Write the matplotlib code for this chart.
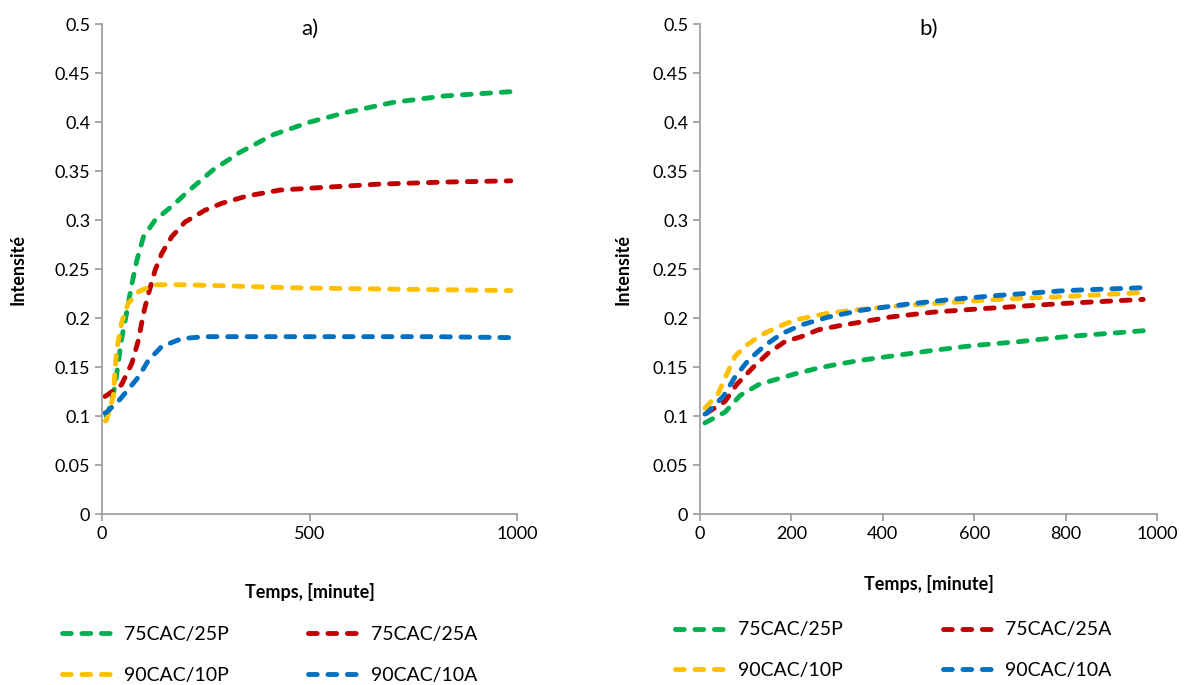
import numpy as np
import matplotlib
matplotlib.use('Agg')
import matplotlib.pyplot as plt
from matplotlib.ticker import FuncFormatter

plt.rcParams['font.family'] = ['Lato', 'DejaVu Sans']

# Couleurs (Excel)
couleurs = {'75CAC/25P': '#00B050', '75CAC/25A': '#C00000',
            '90CAC/10P': '#FFC000', '90CAC/10A': '#0070C0'}
ordre = ['75CAC/25P', '75CAC/25A', '90CAC/10P', '90CAC/10A']

# ---- a) ----
a_25P_x = [10, 15, 31, 39, 47, 59, 72, 84, 100, 128, 168, 212, 267, 332, 412, 501, 590, 701, 822, 985]
a_25P_y = [0.100, 0.103, 0.130, 0.154, 0.178, 0.205, 0.235, 0.259, 0.283, 0.300, 0.314, 0.331,
           0.351, 0.369, 0.387, 0.400, 0.410, 0.420, 0.4265, 0.431]

a_25A_x = [7, 11, 47, 72, 88, 100, 112, 128, 144, 168, 200, 248, 288, 349, 429, 549, 670, 831, 985]
a_25A_y = [0.120, 0.121, 0.132, 0.154, 0.178, 0.205, 0.225, 0.249, 0.266, 0.283, 0.298, 0.310,
           0.317, 0.3245, 0.3306, 0.3337, 0.3367, 0.3388, 0.340]

a_10P_x = [8, 11, 27, 35, 47, 63, 88, 128, 192, 288, 446, 600, 800, 985]
a_10P_y = [0.095, 0.096, 0.120, 0.167, 0.195, 0.215, 0.227, 0.234, 0.234, 0.233, 0.231, 0.230, 0.229, 0.228]

a_10A_x = [7, 11, 39, 63, 88, 112, 144, 192, 248, 400, 600, 800, 985]
a_10A_y = [0.103, 0.104, 0.115, 0.127, 0.140, 0.157, 0.171, 0.179, 0.181, 0.181, 0.181, 0.181, 0.180]

# ---- b) ----
b_25P_x = [11, 15, 55, 88, 128, 171, 208, 259, 303, 354, 416, 510, 600, 700, 800, 970]
b_25P_y = [0.093, 0.094, 0.104, 0.121, 0.132, 0.138, 0.143, 0.149, 0.153, 0.157, 0.161, 0.167,
           0.172, 0.176, 0.181, 0.187]

b_25A_x = [15, 18, 55, 80, 117, 149, 186, 222, 259, 303, 354, 416, 510, 600, 700, 800, 970]
b_25A_y = [0.103, 0.104, 0.115, 0.132, 0.150, 0.164, 0.176, 0.181, 0.188, 0.192, 0.196, 0.201,
           0.206, 0.209, 0.212, 0.215, 0.219]

b_10P_x = [11, 15, 40, 58, 77, 98, 135, 171, 208, 281, 354, 450, 550, 650, 800, 970]
b_10P_y = [0.108, 0.110, 0.123, 0.142, 0.161, 0.171, 0.183, 0.191, 0.198, 0.205, 0.209, 0.213,
           0.216, 0.219, 0.222, 0.226]

b_10A_x = [11, 15, 51, 77, 106, 142, 179, 222, 281, 354, 450, 550, 650, 800, 970]
b_10A_y = [0.102, 0.103, 0.120, 0.140, 0.157, 0.172, 0.184, 0.193, 0.201, 0.208, 0.214, 0.219,
           0.223, 0.228, 0.231]

donnees_a = {'75CAC/25P': (a_25P_x, a_25P_y), '75CAC/25A': (a_25A_x, a_25A_y),
             '90CAC/10P': (a_10P_x, a_10P_y), '90CAC/10A': (a_10A_x, a_10A_y)}
donnees_b = {'75CAC/25P': (b_25P_x, b_25P_y), '75CAC/25A': (b_25A_x, b_25A_y),
             '90CAC/10P': (b_10P_x, b_10P_y), '90CAC/10A': (b_10A_x, b_10A_y)}


def fmt_y(v, pos):
    return ('%.2f' % v).rstrip('0').rstrip('.')


def tracer(ax, donnees, titre, xticks, leg_anchor, colsp, ylpad, xlpad):
    lignes = {}
    for nom in ordre:
        x, y = donnees[nom]
        line, = ax.plot(x, y, color=couleurs[nom], lw=3.5, label=nom,
                        dash_capstyle='round', solid_joinstyle='round')
        line.set_dashes((1.8, 2.2))
        lignes[nom] = line
    ax.set_xlim(0, 1000)
    ax.set_ylim(0, 0.5)
    ax.set_xticks(xticks)
    ax.set_yticks(np.arange(0, 0.501, 0.05))
    ax.yaxis.set_major_formatter(FuncFormatter(fmt_y))
    for s in ['top', 'right']:
        ax.spines[s].set_visible(False)
    for s in ['left', 'bottom']:
        ax.spines[s].set_color('#A0A0A0')
        ax.spines[s].set_linewidth(1.3)
    ax.tick_params(colors='#A0A0A0', labelcolor='black', labelsize=13,
                   length=5, width=1.3, direction='out')
    ax.text(0.5, 0.99, titre, transform=ax.transAxes, ha='center', va='center', fontsize=16)
    ax.set_ylabel('Intensité', fontsize=13, fontweight='bold', labelpad=ylpad)
    ax.set_xlabel('Temps, [minute]', fontsize=13, fontweight='bold', labelpad=xlpad)
    # ordre ligne par ligne dans la légende
    ordre_leg = ['75CAC/25P', '90CAC/10P', '75CAC/25A', '90CAC/10A']
    ax.legend([lignes[n] for n in ordre_leg], ordre_leg,
              loc='center left', bbox_to_anchor=leg_anchor,
              bbox_transform=fig.transFigure, ncol=2, frameon=False,
              fontsize=14, handlelength=2.8, columnspacing=colsp,
              labelspacing=1.2, handletextpad=0.4)


fig = plt.figure(figsize=(11.92, 6.85), dpi=100)
ax1 = fig.add_axes([0.0856, 0.2496, 0.3481, 0.7153])
ax2 = fig.add_axes([0.5872, 0.2496, 0.3834, 0.7153])

tracer(ax1, donnees_a, 'a)', [0, 500, 1000], (0.037, 0.044), 4.1, 20, 30)
tracer(ax2, donnees_b, 'b)', [0, 200, 400, 600, 800, 1000], (0.552, 0.051), 5.15, 15, 24)

fig.savefig('out.png', dpi=100)
